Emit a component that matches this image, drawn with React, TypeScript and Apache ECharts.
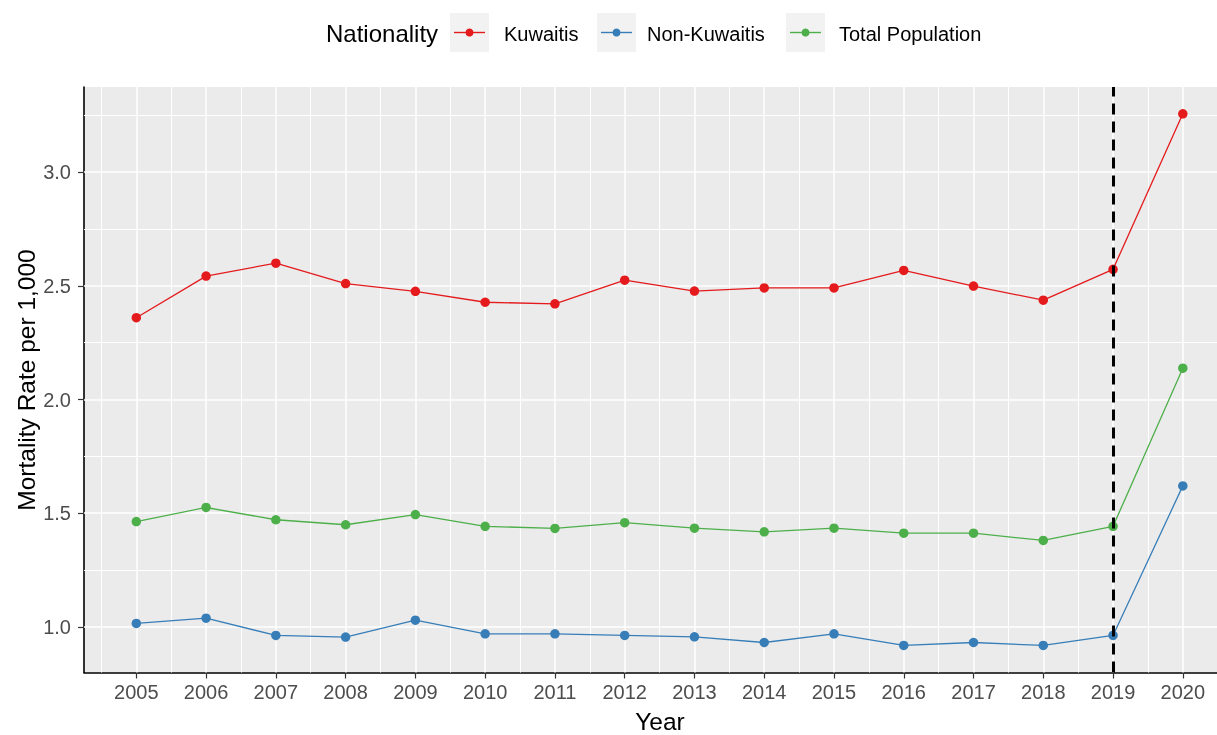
import React, { useEffect, useRef } from "react";
import * as echarts from "echarts";

const years = [2005, 2006, 2007, 2008, 2009, 2010, 2011, 2012, 2013, 2014, 2015, 2016, 2017, 2018, 2019, 2020];
const kuwaitis = [2.36, 2.543, 2.6, 2.51, 2.476, 2.428, 2.421, 2.525, 2.477, 2.491, 2.491, 2.568, 2.499, 2.437, 2.573, 3.257];
const nonKuwaitis = [1.015, 1.038, 0.962, 0.955, 1.029, 0.969, 0.969, 0.962, 0.956, 0.931, 0.969, 0.918, 0.931, 0.918, 0.962, 1.62];
const totalPopulation = [1.463, 1.525, 1.471, 1.449, 1.494, 1.442, 1.433, 1.458, 1.434, 1.418, 1.434, 1.412, 1.412, 1.38, 1.442, 2.138];

const seriesNames = ["Kuwaitis", "Non-Kuwaitis", "Total Population"];
const seriesColors = ["#E41A1C", "#377EB8", "#4DAF4A"];
const yTicks = [1.0, 1.5, 2.0, 2.5, 3.0];
const yMinor = [1.25, 1.75, 2.25, 2.75, 3.25];
const xMinor = [2004.5, 2005.5, 2006.5, 2007.5, 2008.5, 2009.5, 2010.5, 2011.5, 2012.5, 2013.5, 2014.5, 2015.5, 2016.5, 2017.5, 2018.5, 2019.5];
const eventYear = 2019;
const legendTitle = "Nationality";
const xTitle = "Year";
const yTitle = "Mortality Rate per 1,000";

const FONT = "'Liberation Sans', Arial, sans-serif";

export default function App() {
  const ref = useRef<HTMLDivElement>(null);

  useEffect(() => {
    if (!ref.current) return;
    const chart = echarts.init(ref.current, undefined, { renderer: "svg" });
    const allSeries = [kuwaitis, nonKuwaitis, totalPopulation];

    const gridLines: any[] = [];
    yMinor.forEach((v) => gridLines.push({ yAxis: v, lineStyle: { width: 1.0 } }));
    xMinor.forEach((v) => gridLines.push({ xAxis: v, lineStyle: { width: 1.0 } }));
    yTicks.forEach((v) => gridLines.push({ yAxis: v, lineStyle: { width: 1.5 } }));
    years.forEach((v) => gridLines.push({ xAxis: v, lineStyle: { width: 1.5 } }));

    // legend graphics
    const keyX = [450, 597, 786];
    const textX = [504, 647, 839];
    const keyY = 13;
    const keySize = 39;
    const legendEls: any[] = [
      {
        type: "text",
        x: 326,
        y: 33,
        style: { text: legendTitle, font: `24px ${FONT}`, fill: "#000", verticalAlign: "middle", align: "left" },
      },
    ];
    seriesNames.forEach((name, i) => {
      legendEls.push({
        type: "rect",
        shape: { x: keyX[i], y: keyY, width: keySize, height: keySize },
        style: { fill: "#F2F2F2" },
      });
      legendEls.push({
        type: "line",
        shape: { x1: keyX[i] + 4, y1: keyY + keySize / 2, x2: keyX[i] + keySize - 4, y2: keyY + keySize / 2 },
        style: { stroke: seriesColors[i], lineWidth: 1.4 },
      });
      legendEls.push({
        type: "circle",
        shape: { cx: keyX[i] + keySize / 2, cy: keyY + keySize / 2, r: 4 },
        style: { fill: seriesColors[i] },
      });
      legendEls.push({
        type: "text",
        x: textX[i],
        y: keyY + keySize / 2 + 1,
        style: { text: name, font: `20px ${FONT}`, fill: "#000", verticalAlign: "middle", align: "left" },
      });
    });

    const option: any = {
      animation: false,
      grid: {
        left: 84,
        right: 0,
        top: 87,
        bottom: 62.5,
        show: true,
        backgroundColor: "#EBEBEB",
        borderWidth: 0,
      },
      xAxis: {
        type: "value",
        min: 2004.25,
        max: 2020.49,
        axisLine: { show: true, onZero: false, lineStyle: { color: "#000", width: 1.6 } },
        axisTick: { show: true, length: 6, customValues: years, lineStyle: { color: "#333", width: 1.2 } },
        axisLabel: {
          customValues: years,
          margin: 9,
          color: "#4D4D4D",
          fontSize: 20,
          fontFamily: FONT,
          formatter: (v: number) => String(Math.round(v)),
        },
        splitLine: { show: false },
      },
      yAxis: {
        type: "value",
        min: 0.799,
        max: 3.375,
        axisLine: { show: true, onZero: false, lineStyle: { color: "#000", width: 1.6 } },
        axisTick: { show: true, length: 6, customValues: yTicks, lineStyle: { color: "#333", width: 1.2 } },
        axisLabel: {
          customValues: yTicks,
          margin: 13,
          color: "#4D4D4D",
          fontSize: 20,
          fontFamily: FONT,
          formatter: (v: number) => v.toFixed(1),
        },
        splitLine: { show: false },
      },
      series: [
        {
          type: "line",
          name: "grid",
          data: [],
          z: 1,
          silent: true,
          markLine: {
            z: 1,
            silent: true,
            symbol: "none",
            label: { show: false },
            lineStyle: { color: "#FFFFFF", type: "solid" },
            emphasis: { disabled: true },
            data: gridLines,
          },
        },
        ...seriesNames.map((name, i) => ({
          type: "line",
          name,
          data: years.map((y, j) => [y, allSeries[i][j]]),
          symbol: "circle",
          symbolSize: 9.5,
          showSymbol: true,
          z: 3,
          silent: true,
          lineStyle: { color: seriesColors[i], width: 1.3 },
          itemStyle: { color: seriesColors[i], borderWidth: 0 },
        })),
        {
          type: "line",
          name: "event",
          data: [],
          z: 10,
          silent: true,
          markLine: {
            z: 10,
            silent: true,
            symbol: "none",
            label: { show: false },
            lineStyle: { color: "#000", type: [11, 7], width: 3 },
            emphasis: { disabled: true },
            data: [{ xAxis: eventYear }],
          },
        },
      ],
      graphic: [
        ...legendEls,
        {
          type: "text",
          x: 660,
          y: 721,
          style: { text: xTitle, font: `24.5px ${FONT}`, fill: "#000", align: "center", verticalAlign: "middle" },
        },
        {
          type: "text",
          x: 26,
          y: 380,
          rotation: Math.PI / 2,
          style: { text: yTitle, font: `24.5px ${FONT}`, fill: "#000", align: "center", verticalAlign: "middle" },
        },
      ],
    };
    chart.setOption(option);
    return () => chart.dispose();
  }, []);

  return <div ref={ref} style={{ position: "fixed", left: 0, top: 0, width: 1217, height: 735 }} />;
}
